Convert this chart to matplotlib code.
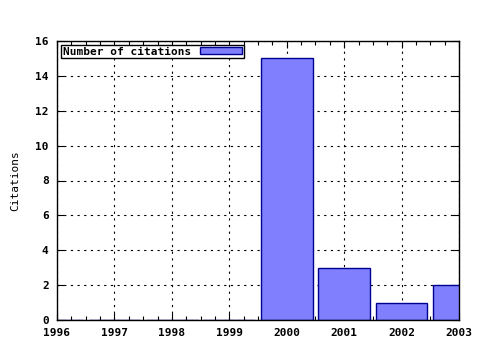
import matplotlib.pyplot as plt
from matplotlib.ticker import MultipleLocator

# Citations per year
years = [1996, 1997, 1998, 1999, 2000, 2001, 2002, 2003]
citations = [0, 0, 0, 0, 15, 3, 1, 2]

plt.rcParams['font.family'] = 'DejaVu Sans Mono'
plt.rcParams['font.weight'] = 'bold'
plt.rcParams['font.size'] = 8

fig = plt.figure(figsize=(4.8, 3.5), dpi=100)
ax = fig.add_axes([57 / 480, 1 - 320 / 350, (459 - 57) / 480, (320 - 41) / 350])

ax.bar(years, citations, width=0.9, color='#8080ff', edgecolor='#000090',
       linewidth=1, label='Number of citations', zorder=3)

ax.set_xlim(1996, 2003)
ax.set_ylim(0, 16)
ax.set_xticks(years)
ax.xaxis.set_minor_locator(MultipleLocator(0.25))
ax.set_yticks(range(0, 17, 2))
ax.grid(True, linestyle=(0, (2, 4)), color='black', linewidth=0.8, zorder=0)
ax.tick_params(direction='in', top=True, right=True, length=5, width=0.8, pad=6)
ax.tick_params(which='minor', direction='in', top=True, length=3, width=0.8)
for s in ax.spines.values():
    s.set_linewidth(1)
    s.set_zorder(4)

ax.set_ylabel('Citations', labelpad=11)

leg = ax.legend(loc='upper left', markerfirst=False, fancybox=False,
                edgecolor='black', framealpha=1, borderpad=0.15,
                handlelength=3.8, handleheight=0.6, handletextpad=0.8,
                borderaxespad=0.35)
leg.get_frame().set_linewidth(1)

fig.savefig('out.png', dpi=100)
